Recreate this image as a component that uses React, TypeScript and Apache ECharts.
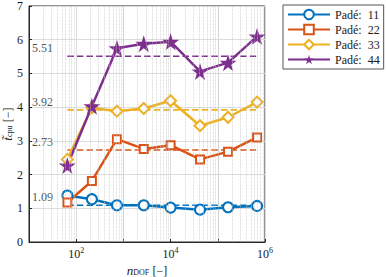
import React, { useEffect, useRef } from "react";
import * as echarts from "echarts";

const nDof = [65, 215, 730, 2700, 10000, 42000, 165000, 680000];
const pade11 = [1.38, 1.27, 1.09, 1.09, 1.02, 0.96, 1.03, 1.07];
const pade22 = [1.17, 1.81, 3.05, 2.76, 2.87, 2.45, 2.68, 3.1];
const pade33 = [2.45, 3.98, 3.88, 3.96, 4.19, 3.45, 3.7, 4.15];
const pade44 = [2.27, 4.03, 5.75, 5.88, 5.94, 5.06, 5.32, 6.1];
const means = [1.09, 2.73, 3.92, 5.51];
const names = ["Padé:  11", "Padé:  22", "Padé:  33", "Padé:  44"];
const colors = ["#0072BD", "#D95319", "#EDB120", "#7E2F8E"];
const labelX = 11.6;

const FONT = "Liberation Serif";
const STAR = "path://M50,0 L61,35 L98,35 L68,57 L79,91 L50,70 L21,91 L32,57 L2,35 L39,35 Z";

export default function App() {
  const ref = useRef<HTMLDivElement>(null);
  useEffect(() => {
    const chart = echarts.init(ref.current!, null, { renderer: "svg" });
    const allData = [pade11, pade22, pade33, pade44];
    const symbols = ["emptyCircle", "emptyRect", "emptyDiamond", STAR];
    const sizes = [10, 8, 11, 17];
    const minorVals: number[] = [];
    for (let d = 10; d < 1e6; d *= 10) {
      for (let k = 2; k <= 9; k++) minorVals.push(d * k);
    }
    minorVals.push(1000, 100000);
    const series: any[] = [];
    series.push({
      type: "line",
      data: [],
      silent: true,
      markLine: {
        silent: true,
        symbol: "none",
        label: { show: false },
        lineStyle: { color: "#c4c4c4", type: "dotted", width: 0.7 },
        data: minorVals.map((v) => ({ xAxis: v })),
      },
    });
    means.forEach((m, i) => {
      series.push({
        type: "line",
        data: [[nDof[0], m], [nDof[nDof.length - 1], m]],
        symbol: "none",
        silent: true,
        z: 1,
        lineStyle: { color: colors[i], width: 1.6, type: "dashed" },
      });
      series.push({
        type: "scatter",
        data: [[labelX, m]],
        symbolSize: 0,
        silent: true,
        label: {
          show: true,
          position: "right",
          distance: 0,
          offset: [0, -8],
          formatter: () => m.toFixed(2),
          color: "#1a1a1a",
          fontFamily: FONT,
          fontSize: 12,
        },
      });
    });
    allData.forEach((d, i) => {
      series.push({
        name: names[i],
        type: "line",
        z: 3,
        data: d.map((v, j) => [nDof[j], v]),
        symbol: symbols[i],
        symbolSize: sizes[i],
        showAllSymbol: true,
        color: colors[i],
        lineStyle: { color: colors[i], width: 2.5, type: "solid" },
        itemStyle: { color: colors[i], borderColor: colors[i], borderWidth: i === 3 ? 0 : 2.5 },
      });
    });
    const nameRich = {
      i: { fontFamily: FONT, fontStyle: "italic", fontSize: 13, color: "#1a1a1a", lineHeight: 13 },
      sub: { fontFamily: FONT, fontSize: 8, color: "#1a1a1a", verticalAlign: "top", padding: [4, 0, 0, 0], lineHeight: 9 },
      b: { fontFamily: FONT, fontSize: 12, color: "#1a1a1a", lineHeight: 13 },
    };
    chart.setOption({
      animation: false,
      grid: {
        left: 29, right: 121, top: 6, bottom: 35,
        outerBoundsMode: "none", containLabel: false,
        show: true, borderColor: "#262626", borderWidth: 1, backgroundColor: "#fff",
      },
      legend: {
        data: names,
        orient: "vertical",
        left: 283,
        top: 5,
        padding: [3, 4, 3, 4],
        itemGap: 2,
        itemWidth: 42,
        itemHeight: 12,
        borderColor: "#555",
        borderWidth: 1,
        borderRadius: 0,
        textStyle: { fontFamily: FONT, fontSize: 12, color: "#1a1a1a", lineHeight: 13 },
      },
      xAxis: {
        type: "log",
        logBase: 10,
        min: 10,
        max: 1e6,
        axisLine: { show: true, lineStyle: { color: "#262626" } },
        axisTick: { show: true, inside: true, length: 3, lineStyle: { color: "#262626" } },
        splitLine: { show: true, lineStyle: { color: "#dcdcdc", width: 1 } },
        axisLabel: {
          margin: 4,
          formatter: (v: number) => {
            const e = Math.round(Math.log10(v));
            if (e % 2 !== 0) return "";
            return `{b|10}{s|${e}}`;
          },
          rich: {
            b: { fontFamily: FONT, fontSize: 12, color: "#1a1a1a" },
            s: { fontFamily: FONT, fontSize: 8, color: "#1a1a1a", verticalAlign: "bottom", padding: [0, 0, 7, 0] },
          },
        },
        name: "{i|n}{sub|DOF} {b|[−]}",
        nameLocation: "middle",
        nameGap: 16,
        nameTextStyle: { rich: nameRich },
      },
      yAxis: {
        type: "value",
        min: 0,
        max: 7,
        interval: 1,
        axisLine: { show: true, lineStyle: { color: "#262626" } },
        axisTick: { show: true, inside: true, length: 3, lineStyle: { color: "#262626" } },
        splitLine: { show: true, lineStyle: { color: "#dcdcdc", width: 1 } },
        axisLabel: { margin: 6, fontFamily: FONT, fontSize: 12, color: "#1a1a1a" },
        name: "{i|t̃}{sub|cpu} {b|[−]}",
        nameLocation: "middle",
        nameGap: 15,
        nameMoveOverlap: false,
        nameRotate: 90,
        nameTextStyle: { rich: nameRich },
      },
      series,
    });
    return () => chart.dispose();
  }, []);
  return <div ref={ref} style={{ width: 386, height: 277, position: "absolute", left: 0, top: 0 }} />;
}
